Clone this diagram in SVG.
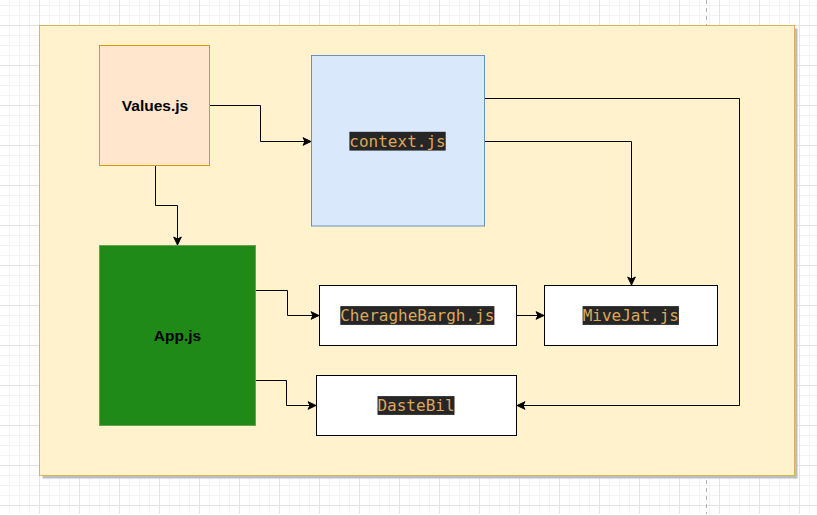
<svg xmlns="http://www.w3.org/2000/svg" width="817" height="516" viewBox="0 0 817 516">
  <style>
    .edge { fill: none; stroke: #000000; stroke-width: 1; marker-end: url(#arrow); }
    .label { font-family: "Liberation Sans", Arial, sans-serif; font-weight: bold; font-size: 15.5px; fill: #000000; text-anchor: middle; }
    .code { font-family: "DejaVu Sans Mono", "Liberation Mono", monospace; font-size: 16px; fill: #dca75d; text-anchor: middle; }
    .codebg { fill: #262626; }
    .plain { fill: #ffffff; stroke: #000000; stroke-width: 1; }
  </style>
  <defs>
    <pattern id="grid" x="39" y="25" width="40" height="40" patternUnits="userSpaceOnUse">
      <rect x="0" y="0" width="40" height="40" fill="#ffffff"/>
      <rect x="10" y="0" width="1" height="40" fill="#f3f3f3"/>
      <rect x="20" y="0" width="1" height="40" fill="#f3f3f3"/>
      <rect x="30" y="0" width="1" height="40" fill="#f3f3f3"/>
      <rect x="0" y="10" width="40" height="1" fill="#f3f3f3"/>
      <rect x="0" y="20" width="40" height="1" fill="#f3f3f3"/>
      <rect x="0" y="30" width="40" height="1" fill="#f3f3f3"/>
      <rect x="0" y="0" width="1" height="40" fill="#e4e4e4"/>
      <rect x="0" y="0" width="40" height="1" fill="#e4e4e4"/>
    </pattern>
    <marker id="arrow" viewBox="-10 -5 11 10" refX="0" refY="0" markerWidth="11" markerHeight="10" markerUnits="userSpaceOnUse" orient="auto">
      <path d="M-8,-3.8 L0,0 L-8,3.8 L-6,0 Z" fill="#000000" stroke="#000000" stroke-width="1"/>
    </marker>
  </defs>

  <!-- background grid -->
  <rect x="0" y="0" width="817" height="516" fill="#ffffff"/>
  <rect x="0" y="0" width="817" height="514" fill="url(#grid)"/>
  <line x1="0" y1="515.5" x2="817" y2="515.5" stroke="#d6d6d6" stroke-width="1"/>
  <line x1="706.5" y1="0" x2="706.5" y2="514" stroke="#b0b0b0" stroke-width="1" stroke-dasharray="4 4"/>

  <!-- container -->
  <g id="container">
    <rect x="42.5" y="28.5" width="755" height="450" fill="#bdbdbd"/>
    <rect x="39.5" y="25.5" width="755" height="450" fill="#fff2cc" stroke="#d6b656" stroke-width="1"/>
  </g>

  <!-- connectors -->
  <g id="connectors">
    <path class="edge" d="M210,105.5 H260.5 V141.5 H311"/>
    <path class="edge" d="M155.5,165 V205.5 H177.5 V245"/>
    <path class="edge" d="M484.5,98.5 H739.5 V405.5 H517"/>
    <path class="edge" d="M484.5,141.5 H631.5 V285"/>
    <path class="edge" d="M255.5,290.5 H287.5 V315.5 H319"/>
    <path class="edge" d="M255.5,380.5 H286.5 V405.5 H316"/>
    <path class="edge" d="M517,315.5 H544"/>
  </g>

  <!-- nodes -->
  <g id="values">
    <rect x="99.5" y="45.5" width="110" height="120" fill="#ffe6cc" stroke="#d79b00" stroke-width="1"/>
    <text class="label" x="155" y="110.5">Values.js</text>
  </g>

  <g id="context">
    <rect x="311.5" y="55.5" width="173" height="170.5" fill="#dae8fc" stroke="#6c8ebf" stroke-width="1"/>
    <rect class="codebg" x="349.4" y="131.8" width="96.3" height="18.8"/>
    <text class="code" x="397.5" y="146.5">context.js</text>
  </g>

  <g id="app">
    <rect x="99.5" y="245.5" width="156" height="180" fill="#1f8a18" stroke="#68a250" stroke-width="1"/>
    <text class="label" x="177.5" y="340.5">App.js</text>
  </g>

  <g id="cheraghebargh">
    <rect class="plain" x="319.5" y="285.5" width="197" height="60"/>
    <rect class="codebg" x="340.3" y="306.1" width="154.1" height="18.8"/>
    <text class="code" x="417.3" y="320.8">CheragheBargh.js</text>
  </g>

  <g id="mivejat">
    <rect class="plain" x="544.5" y="285.5" width="173" height="60"/>
    <rect class="codebg" x="582.6" y="306.1" width="96.3" height="18.8"/>
    <text class="code" x="630.8" y="320.8">MiveJat.js</text>
  </g>

  <g id="dastebil">
    <rect class="plain" x="316.5" y="375.5" width="200" height="60"/>
    <rect class="codebg" x="377.5" y="396.1" width="77" height="18.8"/>
    <text class="code" x="416" y="410.8">DasteBil</text>
  </g>
</svg>
